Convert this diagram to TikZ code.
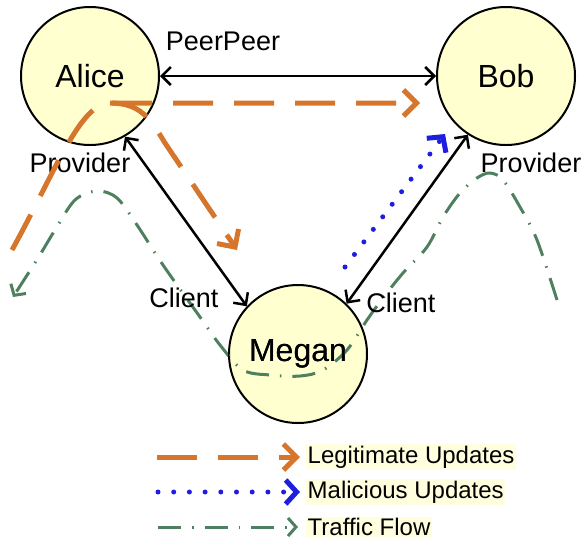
\documentclass[tikz,border=0pt]{standalone}
\usepackage{fontspec}
\setmainfont{Liberation Sans}
\usetikzlibrary{arrows.meta}
\definecolor{nodefill}{RGB}{255,255,208}
\definecolor{labfill}{RGB}{255,255,224}
\definecolor{orng}{RGB}{214,118,44}
\definecolor{blu}{RGB}{30,30,225}
\definecolor{grn}{RGB}{78,128,96}
\tikzset{
  peer/.style={circle,draw=black,line width=2pt,fill=nodefill,minimum size=138pt,inner sep=0pt,font=\fontsize{32pt}{38pt}\selectfont},
  lab/.style={font=\fontsize{27pt}{32pt}\selectfont,inner sep=0pt},
  leglab/.style={font=\fontsize{24pt}{28pt}\selectfont,fill=labfill,inner sep=1.5pt,anchor=west},
  conn/.style={line width=2.5pt,{Straight Barb[length=9pt,width=18pt]}-{Straight Barb[length=9pt,width=18pt]}},
  legit/.style={draw=orng,line width=5pt,dash pattern=on 40pt off 21pt,-{Straight Barb[length=13pt,width=26pt]}},
  malic/.style={draw=blu,line width=5pt,line cap=round,dash pattern=on 0pt off 15.7pt,-{Straight Barb[length=11pt,width=24pt]}},
  traffic/.style={draw=grn,line width=3pt,dash pattern=on 23pt off 11pt on 1.5pt off 11pt,-{Straight Barb[length=8pt,width=18pt]}},
  trafficline/.style={draw=grn,line width=3pt,dash pattern=on 23pt off 11pt on 1.5pt off 11pt},
}
\def\trafficpts{(gs) (537,240) (520,207) (503,180) (490,173) (477,178) (460,193) (443,217) (427,247) (403,273) (383,298) (367,320) (347,350) (323,370) (300,376) (270,375) (243,370) (220,345) (200,317) (163,265) (137,225) (117,198) (97,191) (75,200) (55,230) (38,258) (ge)}
\begin{document}
\begin{tikzpicture}[x=1pt,y=-1pt]
\useasboundingbox (0,0) rectangle (583,542);
% traffic flow (drawn first, under nodes)
\coordinate (gs) at (557,300);
\coordinate (ge) at (13,297);
\draw[traffic] plot[smooth,tension=0.55] coordinates {\trafficpts};
% nodes
\node[peer] (alice) at (90,76) {Alice};
\node[peer] (bob) at (506,76) {Bob};
\node[peer] (megan) at (298,354) {Megan};
% traffic flow shows through Megan
\begin{scope}
\clip (megan) circle (69pt);
\draw[trafficline] plot[smooth,tension=0.55] coordinates {\trafficpts};
\end{scope}
\node[font=\fontsize{32pt}{38pt}\selectfont] at (megan) {Megan};
% black relations
\draw[conn] (alice.east) -- (bob.west);
\draw[conn] (alice.-60) -- (megan.137);
\draw[conn] (bob.-123) -- (megan.46);
% labels
\node[lab] (pp) at (223,41) {PeerPeer};
\node[lab] (prova) at (80,163) {Provider};
\node[lab] (provb) at (531,163) {Provider};
\node[lab] (clia) at (184,298) {Client};
\node[lab] (clib) at (401,303) {Client};
% legitimate updates
\coordinate (os) at (12,250);
\coordinate (ob) at (110,103);
\coordinate (oe) at (420,103);
\coordinate (oe2) at (237,250);
\draw[legit] (os) .. controls (55,172) and (80,103) .. (ob) -- (oe);
\draw[legit] (ob) .. controls (140,103) and (150,118) .. (165,143) -- (oe2);
% malicious updates
\coordinate (ms) at (345,267);
\coordinate (me) at (445,134);
\draw[malic] (ms) -- (me);
% legend
\coordinate (l1s) at (157,457); \coordinate (l1e) at (300,457);
\coordinate (l2s) at (158,492); \coordinate (l2e) at (300,492);
\coordinate (l3s) at (158,527); \coordinate (l3e) at (298,527);
\draw[legit] (l1s) -- (l1e);
\draw[malic] (l2s) -- (l2e);
\draw[traffic] (l3s) -- (l3e);
\node[leglab] (t1) at (306,457) {Legitimate Updates};
\node[leglab] (t2) at (306,492) {Malicious Updates};
\node[leglab] (t3) at (306,527) {Traffic Flow};
\end{tikzpicture}
\end{document}
